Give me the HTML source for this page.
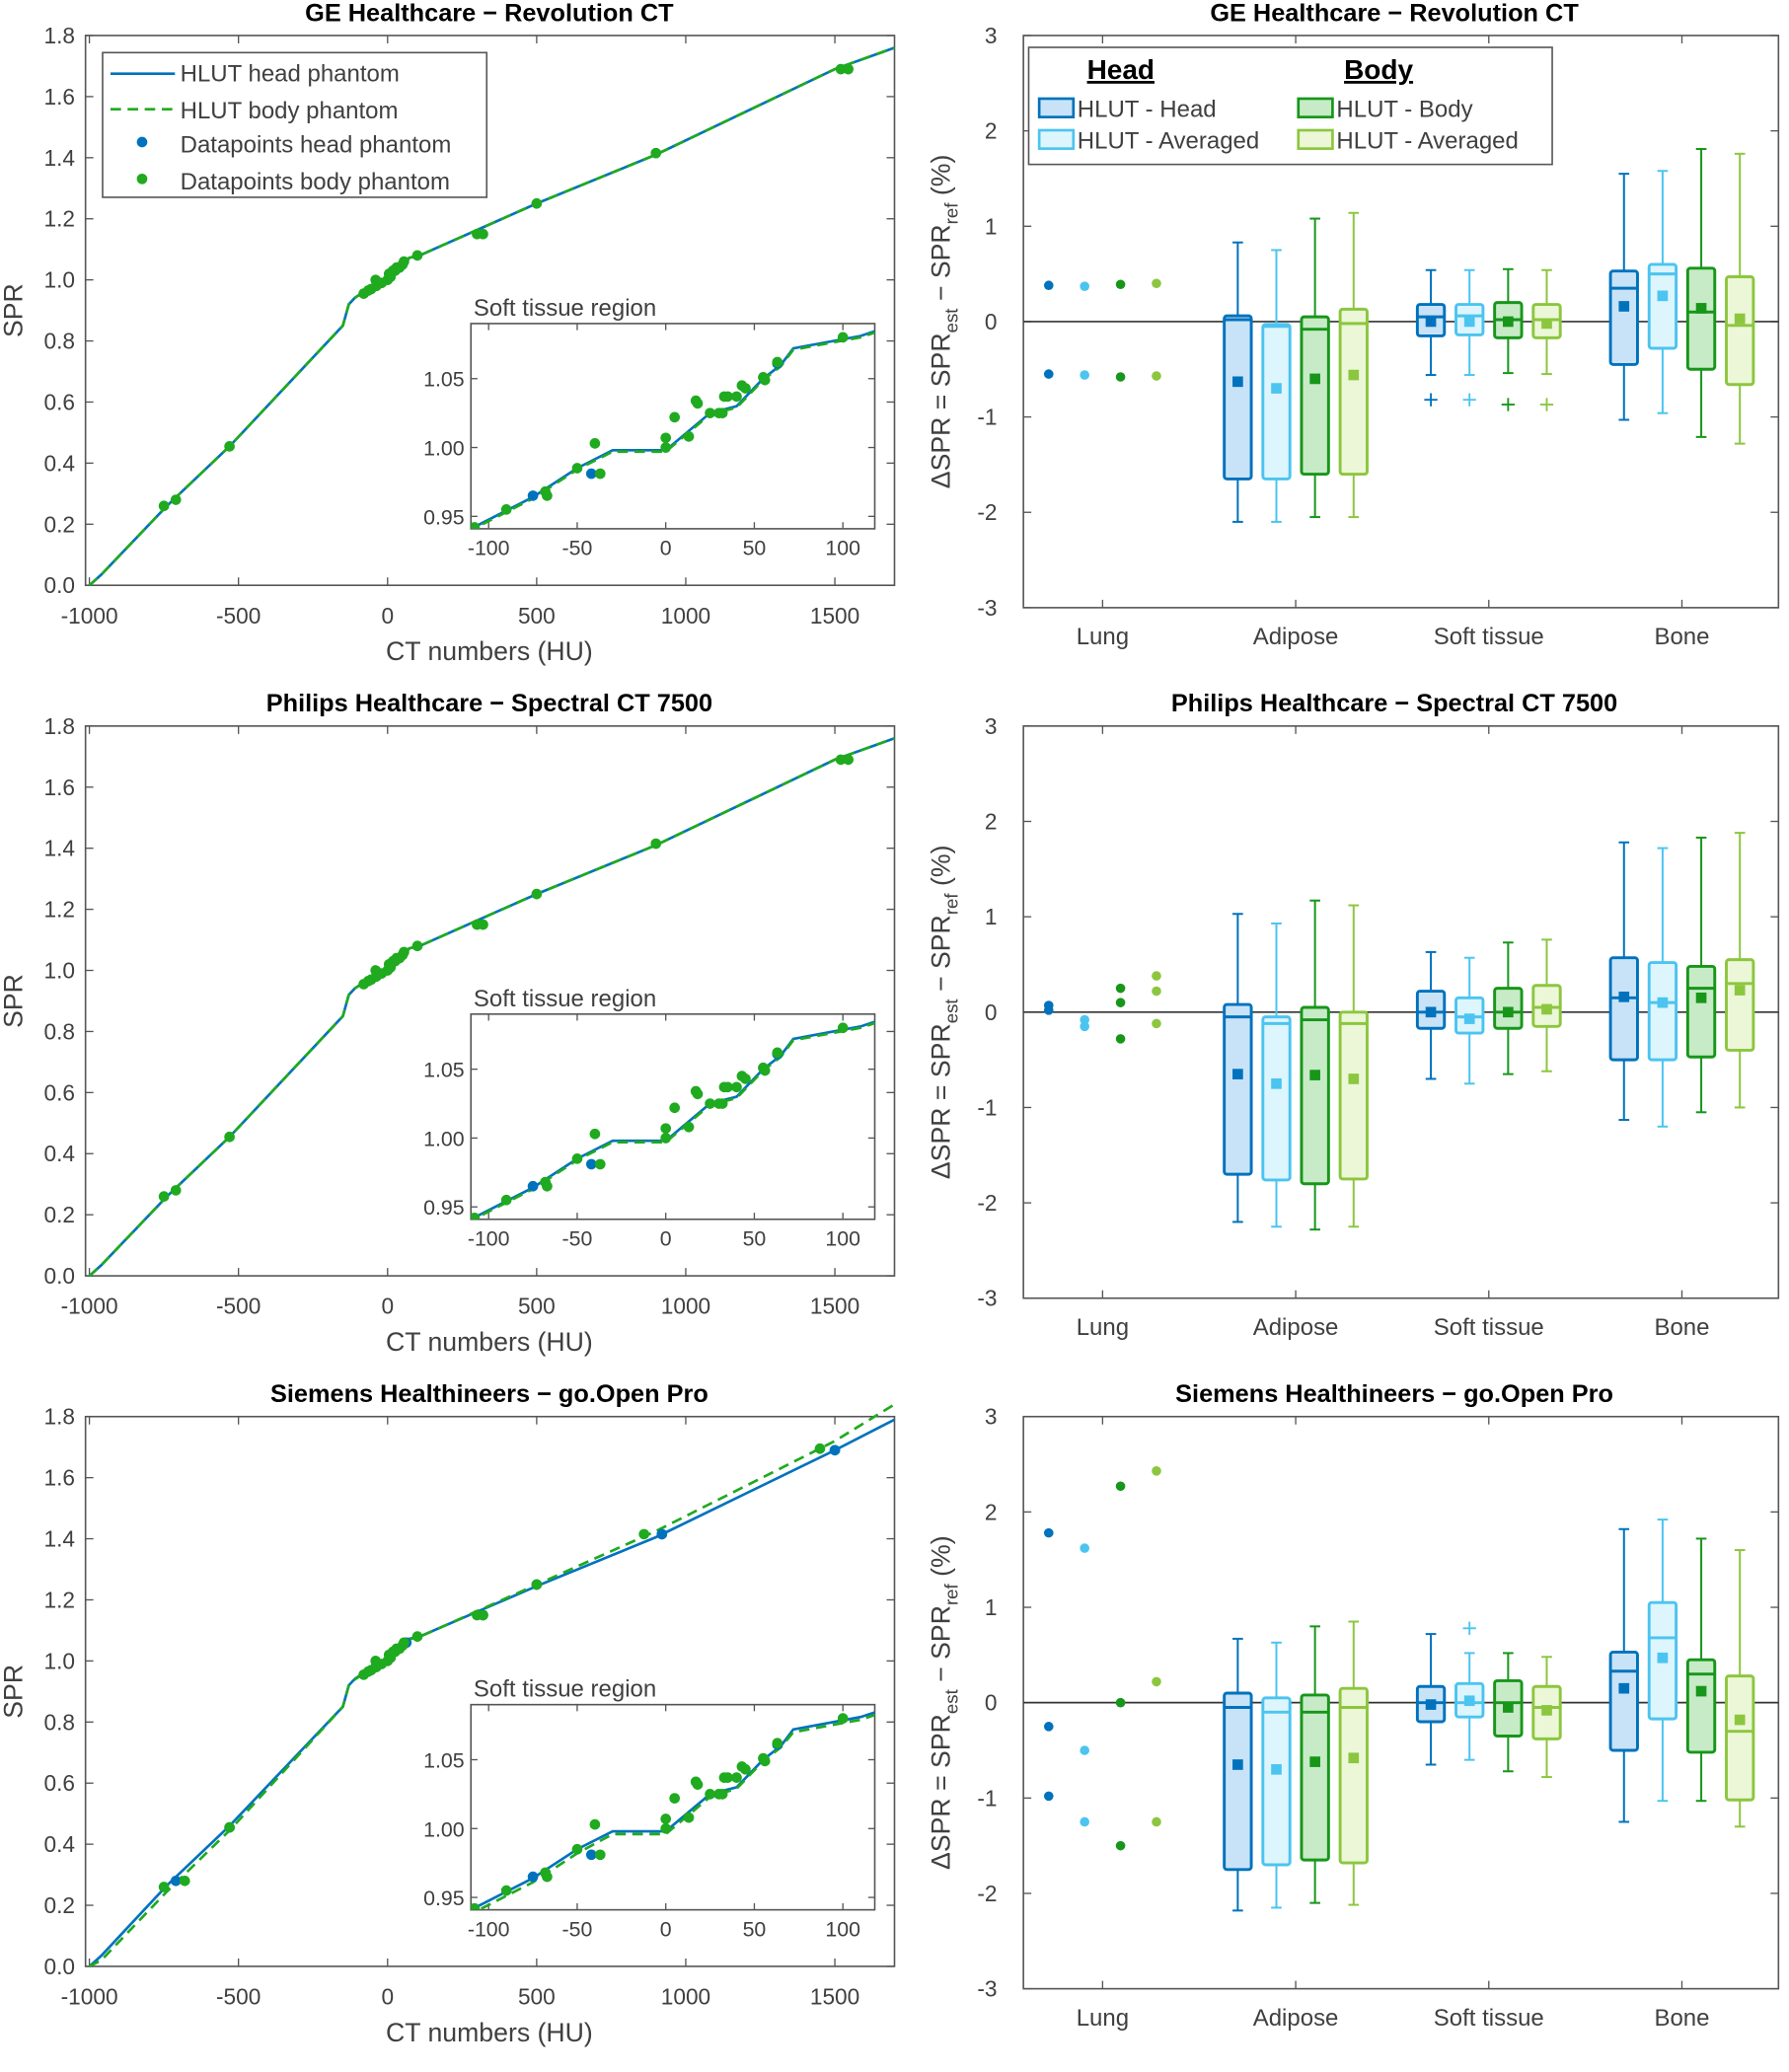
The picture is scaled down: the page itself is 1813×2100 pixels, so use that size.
<!DOCTYPE html>
<html><head><meta charset="utf-8"><style>
html,body{margin:0;padding:0;background:#fff;overflow:hidden;width:1813px;height:2100px}
svg{display:block}
text{font-family:"Liberation Sans",Arial,sans-serif;fill:#404040}
</style></head><body>
<svg id="fig" width="1813" height="2100" viewBox="0 0 1360 1575.3" preserveAspectRatio="none" xmlns="http://www.w3.org/2000/svg"></svg>
<script>
// ===== Data =====
const titles = ["GE Healthcare  \u2212  Revolution CT","Philips Healthcare  \u2212  Spectral CT 7500","Siemens Healthineers  \u2212  go.Open Pro"];
const xTicks = [-1000,-500,0,500,1000,1500];
const yTicks = [0,0.2,0.4,0.6,0.8,1.0,1.2,1.4,1.6,1.8];
const insetXTicks = [-100,-50,0,50,100];
const insetYTicks = [0.95,1.00,1.05];
const lutHU = [-1000,-960,-740,-530,-150,-130,-110,-75,-50,-30,0,25,40,55,65,72,110,500,900,1500,1700];
const lutHead = [[0.0,0.035,0.26,0.455,0.85,0.92,0.941,0.964,0.985,0.998,0.998,1.025,1.03,1.05,1.06,1.072,1.081,1.25,1.41,1.69,1.76],
                 [0.0,0.035,0.26,0.455,0.85,0.92,0.941,0.964,0.985,0.998,0.998,1.025,1.03,1.05,1.06,1.072,1.081,1.25,1.41,1.69,1.76],
                 [0.0,0.035,0.265,0.46,0.85,0.92,0.941,0.964,0.985,0.998,0.998,1.025,1.03,1.05,1.06,1.072,1.081,1.245,1.405,1.69,1.79]];
const lutBody = [[0.0,0.035,0.26,0.455,0.85,0.92,0.941,0.964,0.985,0.998,0.998,1.025,1.03,1.05,1.06,1.072,1.081,1.25,1.41,1.69,1.76],
                 [0.0,0.035,0.26,0.455,0.85,0.92,0.941,0.964,0.985,0.998,0.998,1.025,1.03,1.05,1.06,1.072,1.081,1.25,1.41,1.69,1.76],
                 [0.0,0.02,0.245,0.445,0.85,0.92,0.939,0.962,0.983,0.997,0.997,1.024,1.03,1.05,1.06,1.071,1.08,1.25,1.425,1.72,1.84]];
const ptBodyHU = [-750,-710,-530,-80,-65,-55,-40,-38,-20,0,5,10,18,25,30,40,50,55,100,300,320,500,900,1520,1545];
const ptBodySPR = [0.26,0.28,0.455,0.955,0.965,0.97,1.0,0.98,0.99,1.0,1.02,1.01,1.03,1.03,1.04,1.04,1.05,1.06,1.08,1.15,1.15,1.25,1.415,1.69,1.69];
const ptBodyHU3 = [-750,-680,-530,-80,-65,-55,-40,-38,-20,0,5,10,18,25,30,40,50,55,100,300,320,500,860,1450];
const ptBodySPR3 = [0.26,0.28,0.455,0.955,0.965,0.97,1.0,0.98,0.99,1.0,1.02,1.01,1.03,1.03,1.04,1.04,1.05,1.06,1.08,1.15,1.15,1.25,1.415,1.695];
const ptHeadHU = [-710,-530,-40,20,63,320,500,920,1500];
const ptHeadSPR = [0.28,0.455,0.98,1.03,1.06,1.15,1.25,1.415,1.69];
const inBodyHU = [-108,-90,-68,-67,-50,-40,-37,0,0,5,13,17,18,25,30,32,33,35,40,43,45,55,56,63,100];
const inBodySPR = [0.942,0.955,0.968,0.965,0.985,1.003,0.981,1.007,1.0,1.022,1.008,1.034,1.032,1.025,1.025,1.025,1.037,1.037,1.037,1.045,1.043,1.051,1.049,1.062,1.08];
const inHeadHU = [-75,-42,63];
const inHeadSPR = [0.965,0.981,1.061];

const categories = ["Lung","Adipose","Soft tissue","Bone"];
const seriesNames = ["HLUT - Head","HLUT - Averaged","HLUT - Body","HLUT - Averaged"];
const deltaTicks = [-3,-2,-1,0,1,2,3];
const lungDots = [
 [[0.38,-0.55],[0.37,-0.56],[0.39,-0.58],[0.40,-0.57]],
 [[0.07,0.02],[-0.08,-0.15],[0.25,0.1,-0.28],[0.38,0.22,-0.12]],
 [[1.78,-0.25,-0.98],[1.62,-0.5,-1.25],[2.27,0.0,-1.5],[2.43,0.22,-1.25]]];
// box stats: [low whisker, q1, median, q3, high whisker, mean]
const adiposeStats = [
 [[-2.1,-1.65,0.02,0.06,0.83,-0.63],[-2.1,-1.65,-0.05,-0.03,0.75,-0.7],[-2.05,-1.6,-0.08,0.05,1.08,-0.6],[-2.05,-1.6,-0.02,0.13,1.14,-0.56]],
 [[-2.2,-1.7,-0.05,0.08,1.03,-0.65],[-2.25,-1.76,-0.12,-0.05,0.93,-0.75],[-2.28,-1.8,-0.08,0.05,1.17,-0.66],[-2.25,-1.75,-0.12,0.0,1.12,-0.7]],
 [[-2.18,-1.75,-0.05,0.1,0.67,-0.65],[-2.15,-1.7,-0.1,0.05,0.63,-0.7],[-2.1,-1.65,-0.1,0.08,0.8,-0.62],[-2.12,-1.68,-0.05,0.15,0.85,-0.58]]];
const softStats = [
 [[-0.56,-0.15,0.05,0.18,0.54,0.0],[-0.56,-0.14,0.06,0.18,0.54,0.0],[-0.54,-0.17,0.02,0.2,0.55,0.0],[-0.55,-0.17,0.02,0.18,0.54,-0.02]],
 [[-0.7,-0.17,0.0,0.22,0.63,0.0],[-0.75,-0.22,-0.05,0.15,0.57,-0.07],[-0.65,-0.17,0.0,0.25,0.73,0.0],[-0.62,-0.15,0.05,0.28,0.76,0.03]],
 [[-0.65,-0.2,0.0,0.17,0.72,-0.02],[-0.6,-0.15,0.0,0.2,0.52,0.02],[-0.72,-0.35,0.0,0.23,0.52,-0.05],[-0.78,-0.38,-0.05,0.17,0.48,-0.08]]];
const softOutliers = [[[-0.82],[-0.82],[-0.87],[-0.87]],[[],[],[],[]],[[],[0.78],[],[]]];
const boneStats = [
 [[-1.03,-0.45,0.35,0.53,1.55,0.16],[-0.96,-0.28,0.5,0.6,1.58,0.27],[-1.21,-0.5,0.1,0.56,1.81,0.14],[-1.28,-0.66,-0.04,0.47,1.76,0.03]],
 [[-1.13,-0.5,0.15,0.57,1.78,0.16],[-1.2,-0.5,0.1,0.52,1.72,0.1],[-1.05,-0.47,0.25,0.48,1.83,0.15],[-1.0,-0.4,0.3,0.55,1.88,0.23]],
 [[-1.25,-0.5,0.33,0.53,1.82,0.15],[-1.03,-0.17,0.68,1.05,1.92,0.47],[-1.03,-0.52,0.3,0.45,1.72,0.12],[-1.3,-1.02,-0.3,0.28,1.6,-0.18]]];

// ===== Styles =====
const stroke = ["#0072BD","#4CC4F0","#17961A","#8CC63F"];
const fill = ["#C8E3F7","#DDF5FD","#C6EBC6","#EBF7D6"];
const blue = "#0072BD", green = "#1FAA1F";
const svg = document.getElementById('fig');
const NS = "http://www.w3.org/2000/svg";
function mk(tag, attrs, parent){const e=document.createElementNS(NS,tag);for(const k in attrs)e.setAttribute(k,attrs[k]);(parent||svg).appendChild(e);return e;}
function txt(s,x,y,size,anchor,parent,bold){const t=mk('text',{x:x,y:y,'font-size':size,'text-anchor':anchor||'middle'},parent);if(bold){t.setAttribute('font-weight','bold');t.setAttribute('style','fill:#000');}t.textContent=s;return t;}

for(let r=0;r<3;r++){
  const oy=r*525;
  const g=mk('g',{});
  
  
  const X0=65,X1=680,Y0=445+oy,Y1=27+oy, hmin=-1013,hmax=1700;
  const sx=v=>X0+(v-hmin)/(hmax-hmin)*(X1-X0);
  const sy=v=>Y0-(v-0)/1.8*(Y0-Y1);
  const tl=txt(titles[r],372,16+oy,19,'middle',g,true);
  
  
  mk('rect',{x:X0,y:Y1,width:X1-X0,height:Y0-Y1,fill:'none',stroke:'#555','stroke-width':1.2},g);
  xTicks.forEach(v=>{mk('line',{x1:sx(v),x2:sx(v),y1:Y0,y2:Y0-6,stroke:'#555'},g);mk('line',{x1:sx(v),x2:sx(v),y1:Y1,y2:Y1+6,stroke:'#555'},g);
    const t=txt(String(v),sx(v),Y0+29,17,'middle',g);});
  yTicks.forEach(v=>{mk('line',{x1:X0,x2:X0+6,y1:sy(v),y2:sy(v),stroke:'#555'},g);mk('line',{x1:X1,x2:X1-6,y1:sy(v),y2:sy(v),stroke:'#555'},g);
    const t=txt(v.toFixed(1),X0-8,sy(v)+6,17,'end',g);});
  const xl=txt('CT numbers (HU)',372,Y0+57,20,'middle',g);
  
  
  const yl=txt('SPR',0,0,20,'middle',g);yl.setAttribute('transform','translate(17,'+((Y0+Y1)/2)+') rotate(-90)');
  
  
  const lineH=mk('polyline',{points:lutHU.map((h,i)=>sx(h)+','+sy(lutHead[r][i])).join(' '),fill:'none',stroke:blue,'stroke-width':2},g);
  
  
  const lineB=mk('polyline',{points:lutHU.map((h,i)=>sx(h)+','+sy(lutBody[r][i])).join(' '),fill:'none',stroke:green,'stroke-width':2,'stroke-dasharray':'8 5'},g);
  
  
  const bHU = r==2?ptBodyHU3:ptBodyHU, bSPR = r==2?ptBodySPR3:ptBodySPR;
  if(r==2){ptHeadHU.forEach((h,i)=>{const c=mk('circle',{cx:sx(h),cy:sy(ptHeadSPR[i]),r:4,fill:blue},g);});}
  bHU.forEach((h,i)=>{const c=mk('circle',{cx:sx(h),cy:sy(bSPR[i]),r:4,fill:green},g);});
  if(r==2){[920,1500].forEach((h,i)=>{const c=mk('circle',{cx:sx(h),cy:sy([1.415,1.69][i]),r:4,fill:blue},g);});}
  // inset
  const IX0=358,IX1=665,IY0=402+oy,IY1=246+oy,imin=-110,imax=118,ymn=0.941,ymx=1.090;
  const ix=v=>IX0+(v-imin)/(imax-imin)*(IX1-IX0);
  const iy=v=>IY0-(v-ymn)/(ymx-ymn)*(IY0-IY1);
  const ins=mk('g',{},g);
  
  
  mk('rect',{x:IX0,y:IY1,width:IX1-IX0,height:IY0-IY1,fill:'#fff',stroke:'#555','stroke-width':1.2},ins);
  const it=txt('Soft tissue region',360,IY1-6,18,'start',ins);
  
  
  insetXTicks.forEach(v=>{mk('line',{x1:ix(v),x2:ix(v),y1:IY0,y2:IY0-5,stroke:'#555'},ins);mk('line',{x1:ix(v),x2:ix(v),y1:IY1,y2:IY1+5,stroke:'#555'},ins);txt(String(v),ix(v),IY0+20,16,'middle',ins);});
  insetYTicks.forEach(v=>{mk('line',{x1:IX0,x2:IX0+5,y1:iy(v),y2:iy(v),stroke:'#555'},ins);mk('line',{x1:IX1,x2:IX1-5,y1:iy(v),y2:iy(v),stroke:'#555'},ins);txt(v.toFixed(2),IX0-5,iy(v)+6,16,'end',ins);});
  const clipId='clip'+r;
  const cp=mk('clipPath',{id:clipId},ins);mk('rect',{x:IX0,y:IY1,width:IX1-IX0,height:IY0-IY1},cp);
  const ig=mk('g',{'clip-path':'url(#'+clipId+')'},ins);
  const ih=mk('polyline',{points:lutHU.map((h,i)=>ix(h)+','+iy(lutHead[r][i])).join(' '),fill:'none',stroke:blue,'stroke-width':2},ig);
  
  
  const ib=mk('polyline',{points:lutHU.map((h,i)=>ix(h)+','+iy(lutBody[r][i]-0.001)).join(' '),fill:'none',stroke:green,'stroke-width':2,'stroke-dasharray':'8 5'},ig);
  
  
  inHeadHU.forEach((h,i)=>{const c=mk('circle',{cx:ix(h),cy:iy(inHeadSPR[i]),r:4,fill:blue},ig);});
  inBodyHU.forEach((h,i)=>{const c=mk('circle',{cx:ix(h),cy:iy(inBodySPR[i]),r:4,fill:green},ig);});

  // ---------- right panel ----------
  const g2=mk('g',{});
  
  
  const RX0=778,RX1=1352,RY0=462+oy,RY1=27+oy,cmin=0.59,cmax=4.5;
  const cx=v=>RX0+(v-cmin)/(cmax-cmin)*(RX1-RX0);
  const cy=v=>RY0-(v+3)/6*(RY0-RY1);
  const t2=txt(titles[r],1060,16+oy,19,'middle',g2,true);
  
  
  mk('rect',{x:RX0,y:RY1,width:RX1-RX0,height:RY0-RY1,fill:'none',stroke:'#555','stroke-width':1.2},g2);
  deltaTicks.forEach(v=>{mk('line',{x1:RX0,x2:RX0+6,y1:cy(v),y2:cy(v),stroke:'#555'},g2);mk('line',{x1:RX1,x2:RX1-6,y1:cy(v),y2:cy(v),stroke:'#555'},g2);
    const t=txt(String(v),RX0-20,cy(v)+6,17,'end',g2);});
  categories.forEach((c,i)=>{mk('line',{x1:cx(i+1),x2:cx(i+1),y1:RY0,y2:RY0-6,stroke:'#555'},g2);mk('line',{x1:cx(i+1),x2:cx(i+1),y1:RY1,y2:RY1+6,stroke:'#555'},g2);
    const t=txt(c,cx(i+1),RY0+28,18,'middle',g2);});
  const zl=mk('line',{x1:RX0,x2:RX1,y1:cy(0),y2:cy(0),stroke:'#333','stroke-width':1.3},g2);
  
  
  const yt=mk('text',{'font-size':20,'text-anchor':'middle',transform:'translate(722,'+cy(0)+') rotate(-90)'},g2);
  yt.innerHTML='\u0394SPR = SPR<tspan font-size="14" dy="6">est</tspan><tspan dy="-6">  \u2212  SPR</tspan><tspan font-size="14" dy="6">ref</tspan><tspan dy="-6">   (%)</tspan>';
  
  
  const offs=[-0.3,-0.1,0.1,0.3];
  for(let s=0;s<4;s++){
    lungDots[r][s].forEach(v=>{const d=mk('circle',{cx:cx(1+offs[s]*0.93),cy:cy(v),r:3.6,fill:stroke[s]},g2);});
  }
  const cats=[adiposeStats,softStats,boneStats];
  cats.forEach((st,ci)=>{
    for(let s=0;s<4;s++){
      const d=st[r][s], x=cx(ci+2+offs[s]), w=cx(0.59+0.14)-cx(0.59);
      const bg=mk('g',{},g2);
      
      
      mk('line',{x1:x,x2:x,y1:cy(d[0]),y2:cy(d[4]),stroke:stroke[s],'stroke-width':1.5},bg);
      mk('line',{x1:x-4,x2:x+4,y1:cy(d[0]),y2:cy(d[0]),stroke:stroke[s],'stroke-width':1.5},bg);
      mk('line',{x1:x-4,x2:x+4,y1:cy(d[4]),y2:cy(d[4]),stroke:stroke[s],'stroke-width':1.5},bg);
      mk('rect',{x:x-w/2,y:cy(d[3]),width:w,height:cy(d[1])-cy(d[3]),fill:fill[s],stroke:stroke[s],'stroke-width':2.2,rx:2},bg);
      mk('line',{x1:x-w/2,x2:x+w/2,y1:cy(d[2]),y2:cy(d[2]),stroke:stroke[s],'stroke-width':2.2},bg);
      mk('rect',{x:x-4,y:cy(d[5])-4,width:8,height:8,fill:stroke[s]},bg);
      if(ci==1){softOutliers[r][s].forEach(v=>{mk('line',{x1:x-5,x2:x+5,y1:cy(v),y2:cy(v),stroke:stroke[s],'stroke-width':1.4},bg);mk('line',{x1:x,x2:x,y1:cy(v)-5,y2:cy(v)+5,stroke:stroke[s],'stroke-width':1.4},bg);});}
    }
  });

  if(r==0){
    const lg=mk('g',{});
    
    
    mk('rect',{x:78,y:40,width:292,height:110,fill:'#fff',stroke:'#555','stroke-width':1.2},lg);
    mk('line',{x1:84,x2:133,y1:56,y2:56,stroke:blue,'stroke-width':2},lg);
    mk('line',{x1:84,x2:133,y1:83,y2:83,stroke:green,'stroke-width':2,'stroke-dasharray':'8 5'},lg);
    mk('circle',{cx:108,cy:108,r:4,fill:blue},lg);
    mk('circle',{cx:108,cy:136,r:4,fill:green},lg);
    txt('HLUT head phantom',137,62,18,'start',lg);
    txt('HLUT body phantom',137,90,18,'start',lg);
    txt('Datapoints head phantom',137,116,18,'start',lg);
    txt('Datapoints body phantom',137,144,18,'start',lg);
    const rg=mk('g',{});
    
    
    mk('rect',{x:782,y:36,width:398,height:89,fill:'#fff',stroke:'#555','stroke-width':1.2},rg);
    const h1=txt('Head',852,60,21,'middle',rg,true);h1.setAttribute('text-decoration','underline');
    const h2=txt('Body',1048,60,21,'middle',rg,true);h2.setAttribute('text-decoration','underline');
    const lx=[790,987],ly=[75,99];
    for(let s=0;s<4;s++){
      const X=lx[s<2?0:1],Y=ly[s%2];
      mk('rect',{x:X,y:Y,width:26,height:14,fill:fill[s],stroke:stroke[s],'stroke-width':2},rg);
      txt(seriesNames[s],X+29,Y+14,18,'start',rg);
    }
  }
}
</script>
</body></html>
